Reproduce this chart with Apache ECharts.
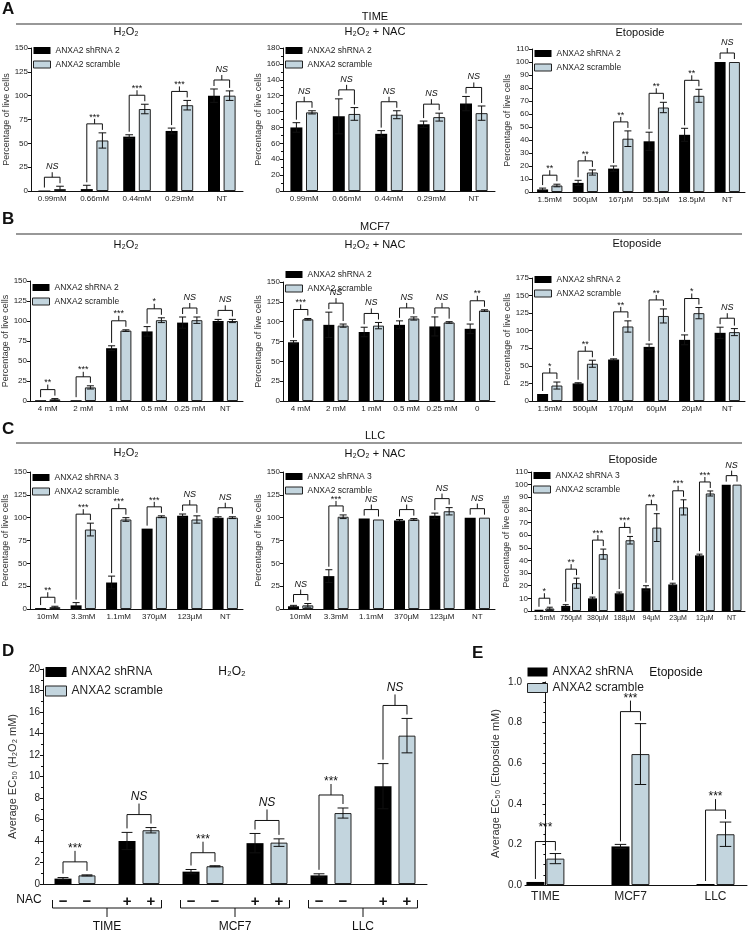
<!DOCTYPE html>
<html><head><meta charset="utf-8">
<script src="https://cdn.jsdelivr.net/npm/echarts@6/dist/echarts.min.js"></script>
<style>html,body{margin:0;padding:0;background:#fff}#c{width:750px;height:932px}</style>
</head><body><div id="c"></div><script>
// ---------------- DATA ----------------
const A1_cats = ['0.99mM','0.66mM','0.44mM','0.29mM','NT'];
const A1_sh = [0.5, 2, 57, 63, 100];
const A1_shErr = [0, 4, 2, 3, 7];
const A1_sc = [2, 53, 86, 90, 100];
const A1_scErr = [3, 8, 5, 5, 5];
const A1_sig = ['NS','***','***','***','NS'];

const A2_cats = ['0.99mM','0.66mM','0.44mM','0.29mM','NT'];
const A2_sh = [80, 94, 72, 84, 110];
const A2_shErr = [6, 22, 4, 4, 9];
const A2_sc = [99, 97, 96, 93, 98];
const A2_scErr = [2, 8, 5, 5, 9];
const A2_sig = ['NS','NS','NS','NS','NS'];

const A3_cats = ['1.5mM','500\u00b5M','167\u00b5M','55.5\u00b5M','18.5\u00b5M','NT'];
const A3_sh = [2, 7, 18, 39, 44, 100];
const A3_shErr = [1, 2, 2, 7, 5, 0];
const A3_sc = [5, 15, 41, 65, 74, 100];
const A3_scErr = [1, 2, 6, 4, 5, 0];
const A3_sig = ['**','**','**','**','**','NS'];

const B1_cats = ['4 mM','2 mM','1 mM','0.5 mM','0.25 mM','NT'];
const B1_sh = [1, 1, 66, 87, 98, 100];
const B1_shErr = [0, 0, 3, 6, 7, 2];
const B1_sc = [2, 17, 88, 101, 101, 100];
const B1_scErr = [1, 2, 1, 3, 4, 2];
const B1_sig = ['**','***','***','*','NS','NS'];

const B2_cats = ['4 mM','2 mM','1 mM','0.5 mM','0.25 mM','0'];
const B2_sh = [74, 96, 87, 96, 94, 91];
const B2_shErr = [2, 16, 6, 5, 12, 6];
const B2_sc = [103, 95, 95, 104, 99, 114];
const B2_scErr = [1, 2, 4, 2, 1, 1];
const B2_sig = ['***','NS','NS','NS','NS','**'];

const B3_cats = ['1.5mM','500\u00b5M','170\u00b5M','60\u00b5M','20\u00b5M','NT'];
const B3_sh = [10, 25, 59, 77, 87, 97];
const B3_shErr = [0, 1, 1, 4, 7, 8];
const B3_sc = [22, 53, 106, 121, 125, 98];
const B3_scErr = [5, 5, 8, 10, 8, 5];
const B3_sig = ['*','**','**','**','*','NS'];

const C1_cats = ['10mM','3.3mM','1.1mM','370\u00b5M','123\u00b5M','NT'];
const C1_sh = [1, 4, 29, 88, 102, 100];
const C1_shErr = [0, 3, 7, 0, 2, 1];
const C1_sc = [2, 87, 98, 101, 98, 100];
const C1_scErr = [1, 7, 2, 1, 4, 1];
const C1_sig = ['**','***','***','***','NS','NS'];

const C2_cats = ['10mM','3.3mM','1.1mM','370\u00b5M','123\u00b5M','NT'];
const C2_sh = [3, 36, 99, 97, 102, 100];
const C2_shErr = [1, 7, 0, 1, 3, 0];
const C2_sc = [4, 101, 98, 98, 107, 100];
const C2_scErr = [2, 2, 0, 1, 4, 0];
const C2_sig = ['NS','***','NS','NS','NS','NS'];

const C3_cats = ['1.5mM','750\u00b5M','380\u00b5M','188\u00b5M','94\u00b5M','23\u00b5M','12\u00b5M','NT'];
const C3_sh = [1, 4, 10, 14, 18, 21, 44, 100];
const C3_shErr = [0, 1, 1, 1, 2, 1, 1, 0];
const C3_sc = [2, 22, 45, 56, 66, 82, 93, 100];
const C3_scErr = [1, 4, 4, 3, 11, 6, 2, 0];
const C3_sig = ['*','**','***','***','**','***','***','NS'];

const D_groups = ['TIME','MCF7','LLC'];
const D_nac = ['\u2212','+','\u2212','+','\u2212','+'];
const D_cats = ['TIME \u2212','TIME +','MCF7 \u2212','MCF7 +','LLC \u2212','LLC +'];
const D_sh = [0.5, 4.0, 1.15, 3.8, 0.8, 9.1];
const D_shErr = [0.1, 0.8, 0.2, 0.9, 0.15, 2.1];
const D_sc = [0.8, 5.0, 1.65, 3.85, 6.6, 13.8];
const D_scErr = [0.05, 0.25, 0.05, 0.35, 0.47, 1.6];
const D_sig = ['***','NS','***','NS','***','NS'];

const E_cats = ['TIME','MCF7','LLC'];
const E_sh = [0.015, 0.19, 0.005];
const E_shErr = [0, 0.01, 0];
const E_sc = [0.13, 0.645, 0.25];
const E_scErr = [0.025, 0.15, 0.06];
const E_sig = ['***','***','***'];

// ---------------- STYLE / LAYOUT ----------------
const FONT = '"Liberation Sans", Arial, sans-serif';
const SC = '#c3d5de';
const SCR = 'ANXA2 scramble';
const small = {barW:12, gap:0.3, xfs:8, yfs:8, lw:17, lh:7, lfs:8.5, lgap:5, sigFs:9, stem:5, dGap:3, bGap:9, nameGap:19, nfs:9, yname:'Percentage of live cells', xmargin:4};

const panels = [
  Object.assign({}, small, {cats:A1_cats, sh:A1_sh, shErr:A1_shErr, sc:A1_sc, scErr:A1_scErr, sig:A1_sig, shName:'ANXA2 shRNA 2', grid:{left:31, top:48, width:212, height:143}, ymax:150, yint:25, legendTop:46}),
  Object.assign({}, small, {cats:A2_cats, sh:A2_sh, shErr:A2_shErr, sc:A2_sc, scErr:A2_scErr, sig:A2_sig, shName:'ANXA2 shRNA 2', grid:{left:283, top:48, width:212, height:143}, ymax:180, yint:20, minor:2, legendTop:46}),
  Object.assign({}, small, {cats:A3_cats, sh:A3_sh, shErr:A3_shErr, sc:A3_sc, scErr:A3_scErr, sig:A3_sig, shName:'ANXA2 shRNA 2', grid:{left:532, top:49, width:213, height:143}, ymax:110, yint:10, legendTop:49, barW:11}),
  Object.assign({}, small, {cats:B1_cats, sh:B1_sh, shErr:B1_shErr, sc:B1_sc, scErr:B1_scErr, sig:B1_sig, shName:'ANXA2 shRNA 2', grid:{left:30, top:281, width:213, height:120}, ymax:150, yint:25, legendTop:283, barW:11}),
  Object.assign({}, small, {cats:B2_cats, sh:B2_sh, shErr:B2_shErr, sc:B2_sc, scErr:B2_scErr, sig:B2_sig, shName:'ANXA2 shRNA 2', grid:{left:283, top:282, width:212, height:119}, ymax:150, yint:25, legendTop:270, barW:11}),
  Object.assign({}, small, {cats:B3_cats, sh:B3_sh, shErr:B3_shErr, sc:B3_sc, scErr:B3_scErr, sig:B3_sig, shName:'ANXA2 shRNA 2', grid:{left:532, top:278, width:213, height:123}, ymax:175, yint:25, legendTop:275, barW:11}),
  Object.assign({}, small, {cats:C1_cats, sh:C1_sh, shErr:C1_shErr, sc:C1_sc, scErr:C1_scErr, sig:C1_sig, shName:'ANXA2 shRNA 3', grid:{left:30, top:472, width:213, height:137}, ymax:150, yint:25, legendTop:473, barW:11}),
  Object.assign({}, small, {cats:C2_cats, sh:C2_sh, shErr:C2_shErr, sc:C2_sc, scErr:C2_scErr, sig:C2_sig, shName:'ANXA2 shRNA 3', grid:{left:283, top:472, width:212, height:137}, ymax:150, yint:25, legendTop:472, barW:11}),
  Object.assign({}, small, {cats:C3_cats, sh:C3_sh, shErr:C3_shErr, sc:C3_sc, scErr:C3_scErr, sig:C3_sig, shName:'ANXA2 shRNA 3', grid:{left:531, top:472, width:214, height:139}, ymax:110, yint:10, legendTop:471, barW:9, gap:0.2, xfs:7}),
  {cats:D_cats, sh:D_sh, shErr:D_shErr, sc:D_sc, scErr:D_scErr, sig:D_sig, shName:'ANXA2 shRNA', grid:{left:43, top:669, width:384, height:215}, ymax:20, yint:2, minor:2,
   barW:17, gap:0.41, xfs:15, yfs:10, lw:21, lh:10, lfs:12, lgap:7, legendTop:666, sigFs:12, stem:11, dGap:4, bGap:13, nameGap:20, nfs:11,
   yname:'Average EC\u2085\u2080 (H\u2082O\u2082 mM)', isD:true, xmargin:10},
  {cats:E_cats, sh:E_sh, shErr:E_shErr, sc:E_sc, scErr:E_scErr, sig:E_sig, shName:'ANXA2 shRNA', grid:{left:525, top:682, width:222, height:203}, ymax:1, yint:0.2, minor:4,
   barW:18, gap:0.11, xfs:12, yfs:10, lw:20, lh:9, lfs:12, lgap:4, legendTop:666, sigFs:12, stem:11, dGap:3, bGap:12, nameGap:24, nfs:11,
   yname:'Average EC\u2085\u2080 (Etoposide mM)', valueX:true, xmin:-0.24, xmax:2.37, yfmt:function(v){return v.toFixed(1);}, xmargin:6}
];

function makeRender(p){
  return function(params, api){
    const i = params.dataIndex;
    const base = api.coord([i, 0]);
    const off = p.barW*(1+p.gap)/2;
    const xs = base[0]-off, xc = base[0]+off;
    const cap = Math.max(3, p.barW*0.32);
    const st = {stroke:'#111', lineWidth:1, fill:'none'};
    const ch = [];
    const Y = function(v){ return api.coord([i, v])[1]; };
    function err(x, v, e){
      if (!(e > 0)) return;
      const t = Y(v+e), b = Y(Math.max(0, v-e));
      ch.push({type:'line', shape:{x1:x,y1:t,x2:x,y2:b}, style:st});
      ch.push({type:'line', shape:{x1:x-cap,y1:t,x2:x+cap,y2:t}, style:st});
      ch.push({type:'line', shape:{x1:x-cap,y1:b,x2:x+cap,y2:b}, style:st});
    }
    err(xs, p.sh[i], p.shErr[i]);
    err(xc, p.sc[i], p.scErr[i]);
    const tl = Y(p.sh[i]+p.shErr[i]), tr = Y(p.sc[i]+p.scErr[i]);
    const yb = Math.min(tl, tr) - p.bGap;
    ch.push({type:'polyline', shape:{points:[[xs, tl-p.dGap],[xs,yb],[xc,yb],[xc,tr-p.dGap]]}, style:st});
    const xm = base[0];
    ch.push({type:'line', shape:{x1:xm,y1:yb,x2:xm,y2:yb-p.stem}, style:st});
    const isNS = p.sig[i] === 'NS';
    ch.push({type:'text', style:{text:p.sig[i], x:xm, y: yb-p.stem-(isNS?1:-p.sigFs*0.3), align:'center', verticalAlign:'bottom',
      fontSize:p.sigFs, fontStyle:isNS?'italic':'normal', fontFamily:FONT, fill:'#111'}});
    return {type:'group', children:ch};
  };
}

const option = {animation:false, textStyle:{fontFamily:FONT}, grid:[], xAxis:[], yAxis:[], series:[], legend:[], graphic:[]};

panels.forEach(function(p, k){
  option.grid.push(Object.assign({containLabel:false, outerBoundsMode:'none'}, p.grid));
  if (p.valueX) {
    option.xAxis.push({type:'value', gridIndex:k, min:p.xmin, max:p.xmax, splitLine:{show:false},
      axisLine:{show:true, onZero:false, lineStyle:{color:'#111'}}, axisTick:{show:false},
      axisLabel:{customValues:[0,1,2], formatter:function(v){return p.cats[Math.round(v)];}, fontSize:p.xfs, color:'#222', margin:p.xmargin}});
  } else {
    const xa = {type:'category', gridIndex:k, data:p.cats, axisTick:{show:false},
      axisLine:{lineStyle:{color:'#111'}}, axisLabel:{interval:0, fontSize:p.xfs, color:'#222', margin:p.xmargin}};
    if (p.isD) {
      xa.axisLabel.formatter = function(v, idx){ return '{s|' + D_nac[idx] + '}{s|' + D_nac[idx] + '}'; };
      xa.axisLabel.rich = {s:{width:p.barW*(1+p.gap), align:'center', fontSize:15, fontWeight:'bold', color:'#111'}};
    }
    option.xAxis.push(xa);
  }
  option.yAxis.push({type:'value', gridIndex:k, min:0, max:p.ymax, interval:p.yint,
    name:p.yname, nameLocation:'middle', nameGap:p.nameGap, nameTextStyle:{fontSize:p.nfs, color:'#333'},
    axisLine:{show:true, lineStyle:{color:'#111'}}, axisTick:{show:true, length:3, lineStyle:{color:'#111'}},
    minorTick:{show:!!p.minor, splitNumber:p.minor||2, length:2, lineStyle:{color:'#111'}},
    splitLine:{show:false}, minorSplitLine:{show:false},
    axisLabel:{fontSize:p.yfs, color:'#222', margin:3, formatter:p.yfmt}});
  const toData = function(arr){ return p.valueX ? arr.map(function(v,i){return [i,v];}) : arr; };
  option.series.push({type:'bar', name:p.shName, xAxisIndex:k, yAxisIndex:k, data:toData(p.sh), barWidth:p.barW, barGap:(p.gap*100)+'%',
    itemStyle:{color:'#000'}, silent:true});
  option.series.push({type:'bar', name:SCR, xAxisIndex:k, yAxisIndex:k, data:toData(p.sc), barWidth:p.barW, barGap:(p.gap*100)+'%',
    itemStyle:{color:SC, borderColor:'#222', borderWidth:1}, silent:true});
  option.series.push({type:'custom', xAxisIndex:k, yAxisIndex:k, renderItem:makeRender(p), clip:false, z:10, silent:true,
    data:p.cats.map(function(c,i){return [i, 0];}), encode:{x:0, y:1}});
  option.legend.push({orient:'vertical', left:p.grid.left+2, top:p.legendTop, itemWidth:p.lw, itemHeight:p.lh, itemGap:p.lgap, icon:'rect',
    padding:0, selectedMode:false, textStyle:{fontSize:p.lfs, color:'#222'},
    data:[{name:p.shName, itemStyle:{color:'#000'}}, {name:SCR, itemStyle:{color:SC, borderColor:'#222', borderWidth:1}}]});
  if (p.isD) {
    option.series.push({type:'custom', xAxisIndex:k, yAxisIndex:k, clip:false, silent:true, z:10,
      data:D_groups.map(function(g,i){return [i*2, 0];}), encode:{x:0, y:1},
      renderItem:function(params, api){
        const a = params.dataIndex*2;
        const off = p.barW*(1+p.gap)/2;
        const xl = api.coord([a,0])[0]-off-p.barW/2-2;
        const xr = api.coord([a+1,0])[0]+off+p.barW/2+2;
        const y0 = api.coord([a,0])[1];
        const xm = (xl+xr)/2;
        const st = {stroke:'#111', lineWidth:1, fill:'none'};
        return {type:'group', children:[
          {type:'polyline', shape:{points:[[xl,y0+16],[xl,y0+24],[xr,y0+24],[xr,y0+16]]}, style:st},
          {type:'line', shape:{x1:xm,y1:y0+24,x2:xm,y2:y0+33}, style:st},
          {type:'text', style:{text:D_groups[params.dataIndex], x:xm, y:y0+43, align:'center', verticalAlign:'middle', fontSize:12, fontFamily:FONT, fill:'#111'}}
        ]};
      }});
  }
});

function T(text, x, y, size, opts){
  opts = opts || {};
  return {type:'text', x:x, y:y, silent:true, style:{text:text, fontSize:size, fontFamily:FONT, fontWeight:opts.bold?'bold':'normal',
    fill:'#111', align:opts.align||'center', textAlign:opts.align||'center', verticalAlign:'middle', textVerticalAlign:'middle'}};
}
function L(x1, y, x2){
  return {type:'line', silent:true, shape:{x1:x1, y1:y, x2:x2, y2:y}, style:{stroke:'#333', lineWidth:1.2}};
}
option.graphic = [
  T('A', 2, 9, 17, {bold:true, align:'left'}),
  T('TIME', 375, 17, 11), L(16, 24, 742),
  T('H\u2082O\u2082', 126, 32, 11), T('H\u2082O\u2082 + NAC', 375, 32, 11), T('Etoposide', 640, 33, 11),
  T('B', 2, 219, 17, {bold:true, align:'left'}),
  T('MCF7', 375, 227, 11), L(16, 234, 742),
  T('H\u2082O\u2082', 126, 245, 11), T('H\u2082O\u2082 + NAC', 375, 245, 11), T('Etoposide', 637, 244, 11),
  T('C', 2, 429, 17, {bold:true, align:'left'}),
  T('LLC', 375, 436, 11), L(16, 443, 742),
  T('H\u2082O\u2082', 126, 453, 11), T('H\u2082O\u2082 + NAC', 375, 454, 11), T('Etoposide', 633, 460, 11),
  T('D', 2, 651, 17, {bold:true, align:'left'}),
  T('H\u2082O\u2082', 232, 672, 12),
  T('NAC', 29, 900, 12),
  T('E', 472, 653, 17, {bold:true, align:'left'}),
  T('Etoposide', 676, 673, 12)
];

const chart = echarts.init(document.getElementById('c'));
chart.setOption(option);
</script></body></html>
